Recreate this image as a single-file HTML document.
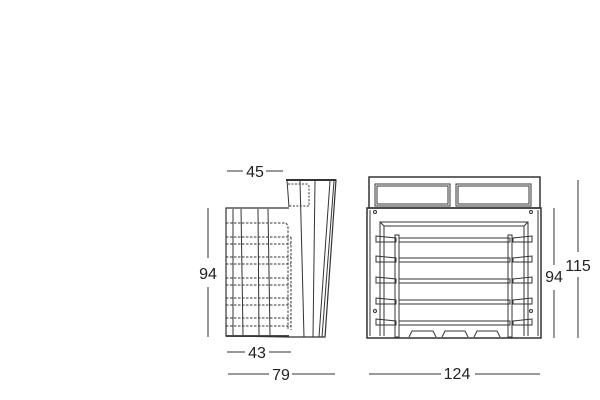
<!DOCTYPE html>
<html><head><meta charset="utf-8"><style>
html,body{margin:0;padding:0;background:#fff;width:600px;height:400px;overflow:hidden}
svg text{font-family:"Liberation Sans",sans-serif;font-size:16px;fill:#222}
</style></head><body>
<svg width="600" height="400" viewBox="0 0 600 400" xmlns="http://www.w3.org/2000/svg">
<g stroke="#333" fill="none" stroke-width="1">
<!-- SIDE VIEW -->
<!-- dims -->
<line x1="227" y1="171" x2="243" y2="171"/><line x1="266" y1="171" x2="283" y2="171"/>
<line x1="208" y1="208" x2="208" y2="258"/><line x1="208" y1="287" x2="208" y2="337"/>
<line x1="227" y1="352" x2="245" y2="352"/><line x1="269" y1="352" x2="291" y2="352"/>
<line x1="228" y1="374" x2="269" y2="374"/><line x1="292" y1="374" x2="335" y2="374"/>
<!-- back part -->
<path d="M286 180 L336 180 L325 337 L289 337" stroke-width="1.2"/>
<line x1="286" y1="180" x2="336" y2="180" stroke-width="2"/>
<line x1="287" y1="180" x2="289" y2="207"/>
<line x1="300" y1="181" x2="304" y2="337"/>
<line x1="315" y1="181" x2="313" y2="337"/>
<line x1="330" y1="181" x2="319" y2="337"/>
<line x1="334" y1="181" x2="322" y2="337"/>
<path d="M288 184 L307 184 L309 186 L309 206 L289 206" stroke-dasharray="2,1.5"/>
<!-- front body -->
<path d="M289 208 L226 208 L226 336 L289 337" stroke-width="1.2"/>
<line x1="226" y1="336" x2="289" y2="336" stroke-width="1.8"/>
<line x1="233" y1="209" x2="233" y2="335"/>
<line x1="241" y1="209" x2="243" y2="335"/>
<line x1="258" y1="209" x2="259" y2="335"/>
<line x1="268" y1="209" x2="270" y2="335"/>
<g stroke-dasharray="2.5,1.5">
<path d="M226 223 L286 223 L288 226 L288 330"/>
<line x1="226" y1="237" x2="291" y2="237"/><line x1="226" y1="244" x2="291" y2="244"/>
<line x1="226" y1="257" x2="291" y2="257"/><line x1="226" y1="264" x2="291" y2="264"/>
<line x1="226" y1="278" x2="291" y2="278"/><line x1="226" y1="285" x2="291" y2="285"/>
<line x1="226" y1="298" x2="291" y2="298"/><line x1="226" y1="305" x2="291" y2="305"/>
<line x1="226" y1="318" x2="291" y2="318"/><line x1="226" y1="326" x2="291" y2="326"/>
<line x1="291" y1="237" x2="291" y2="330"/>
</g>
<!-- FRONT VIEW -->
<line x1="554" y1="208" x2="554" y2="265"/><line x1="554" y1="290" x2="554" y2="338"/>
<line x1="578" y1="180" x2="578" y2="252"/><line x1="578" y1="277" x2="578" y2="338"/>
<line x1="369" y1="374" x2="441" y2="374"/><line x1="475" y1="374" x2="540" y2="374"/>
<rect x="369" y="177" width="171" height="31" stroke-width="1.5"/>
<rect x="375" y="184" width="75" height="22"/><rect x="456" y="184" width="75" height="22"/>
<rect x="377" y="186" width="71" height="18"/><rect x="458" y="186" width="71" height="18"/>
<rect x="367" y="208" width="174" height="130" stroke-width="1.5"/>
<line x1="370" y1="210" x2="370" y2="336"/><line x1="538" y1="210" x2="538" y2="336"/>
<path d="M380 336 L380 222 L528 222 L528 336"/>
<path d="M384 336 L384 226 L524 226 L524 336"/>
<line x1="380" y1="222" x2="384" y2="226"/><line x1="528" y1="222" x2="524" y2="226"/>
<g stroke-width="1">
<rect x="399" y="238" width="111" height="4"/>
<rect x="399" y="258" width="111" height="4"/>
<rect x="399" y="279" width="111" height="4"/>
<rect x="399" y="300" width="111" height="4"/>
<rect x="399" y="321" width="111" height="4"/>
<path d="M376 236 L396 238 L396 242 L376 242 Z"/><path d="M513 238 L532 236 L532 242 L513 242 Z"/>
<path d="M376 256 L396 258 L396 262 L376 262 Z"/><path d="M513 258 L532 256 L532 262 L513 262 Z"/>
<path d="M376 277 L396 279 L396 283 L376 283 Z"/><path d="M513 279 L532 277 L532 283 L513 283 Z"/>
<path d="M376 298 L396 300 L396 304 L376 304 Z"/><path d="M513 300 L532 298 L532 304 L513 304 Z"/>
<path d="M376 319 L396 321 L396 325 L376 325 Z"/><path d="M513 321 L532 319 L532 325 L513 325 Z"/>
<rect x="395" y="235" width="4" height="102"/><rect x="508" y="235" width="4" height="102"/>
<path d="M409 337 L412 331 L433 331 L436 337 M442 337 L445 331 L465 331 L468 337 M474 337 L477 331 L497 331 L500 337"/>
</g>
<circle cx="375" cy="212" r="1.5"/><circle cx="531" cy="212" r="1.5"/>
<circle cx="375" cy="311" r="1.5"/><circle cx="531" cy="311" r="1.5"/>
</g>
<text x="255" y="177" text-anchor="middle">45</text>
<text x="208" y="279" text-anchor="middle">94</text>
<text x="257" y="358" text-anchor="middle">43</text>
<text x="281" y="380" text-anchor="middle">79</text>
<text x="554" y="282" text-anchor="middle">94</text>
<text x="578" y="271" text-anchor="middle">115</text>
<text x="457" y="379" text-anchor="middle">124</text>
</svg>
</body></html>
